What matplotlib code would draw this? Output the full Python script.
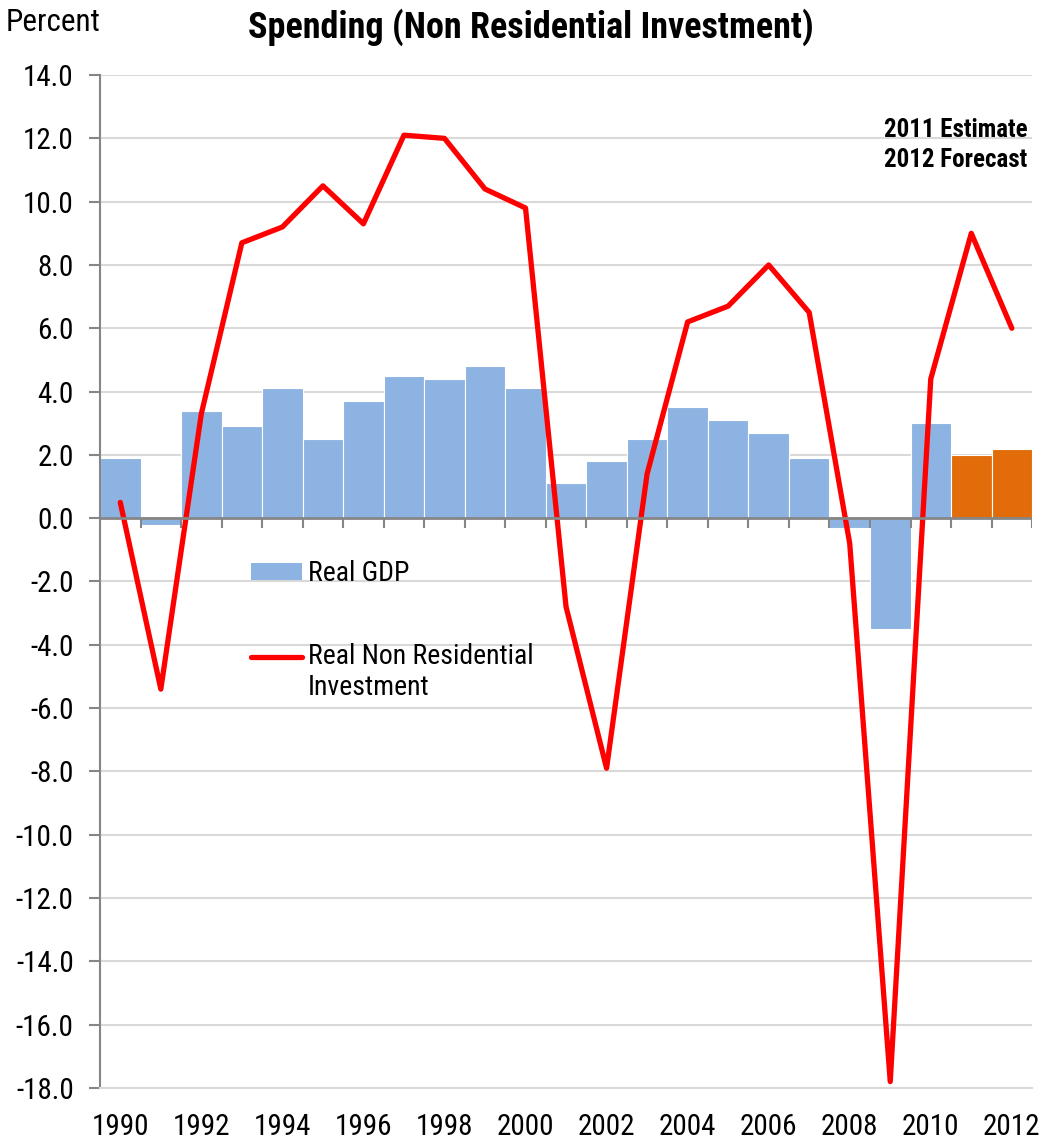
import matplotlib.pyplot as plt
from matplotlib.patches import Patch
from matplotlib.lines import Line2D
from matplotlib.legend_handler import HandlerLine2D
import numpy as np

years = list(range(1990, 2013))
real_gdp = [1.9, -0.2, 3.4, 2.9, 4.1, 2.5, 3.7, 4.5, 4.4, 4.8, 4.1, 1.1,
            1.8, 2.5, 3.5, 3.1, 2.7, 1.9, -0.3, -3.5, 3.0, 2.0, 2.2]
nonres_inv = [0.5, -5.4, 3.3, 8.7, 9.2, 10.5, 9.3, 12.1, 12.0, 10.4, 9.8, -2.8,
              -7.9, 1.4, 6.2, 6.7, 8.0, 6.5, -0.8, -17.8, 4.4, 9.0, 6.0]
forecast_years = [2011, 2012]
year_labels = [str(y) for y in years[::2]]

plt.rcParams['font.family'] = ['Roboto Condensed', 'PT Sans Narrow',
                               'Archivo Narrow', 'Liberation Sans']

blue = '#8DB3E2'
orange = '#E26B0A'
grey = '#868686'


class TopLineHandler(HandlerLine2D):
    # put the legend line next to the first row of a two-line label
    def create_artists(self, legend, orig_handle, xdescent, ydescent,
                       width, height, fontsize, trans):
        return super().create_artists(legend, orig_handle, xdescent,
                                      ydescent - 1.2 * fontsize, width, height,
                                      fontsize, trans)


fig = plt.figure(figsize=(10.54, 11.44), dpi=100)
ax = fig.add_axes([0.0949, 0.049, 0.8843, 0.8854])

x = np.arange(len(years))
colors = [orange if y in forecast_years else blue for y in years]
ax.bar(x, real_gdp, width=1.0, color=colors, edgecolor='white', linewidth=0.8, zorder=2)
ax.plot(x, nonres_inv, color='#FF0000', lw=3.8, solid_capstyle='round', zorder=3)

ax.set_xlim(-0.5, len(years) - 0.5)
ax.set_ylim(-18, 14)
ax.set_yticks(np.arange(-18, 15, 2))
ax.set_yticklabels([f'{v:.1f}' for v in np.arange(-18, 15, 2)])
ax.yaxis.grid(True, color='#D9D9D9', lw=1.5, zorder=0)
ax.set_axisbelow(True)

# year labels sit under the plot, ticks sit on the zero line
ax.set_xticks(x[::2])
ax.set_xticklabels(year_labels)
ax.tick_params(axis='x', length=0, pad=18, labelsize=21)
ax.tick_params(axis='y', length=8, width=1.5, color=grey, labelsize=21, pad=11)

for s in ['top', 'right']:
    ax.spines[s].set_visible(False)
ax.spines['bottom'].set_color('#D9D9D9')
ax.spines['bottom'].set_linewidth(1.5)
ax.spines['left'].set_color(grey)
ax.spines['left'].set_linewidth(1.5)

ax.axhline(0, color=grey, lw=2, zorder=4)
ax.vlines(np.arange(len(years) + 1) - 0.5, -0.3, 0, color=grey, lw=1.5, zorder=4)

gdp_handle = Patch(facecolor=blue, edgecolor='none')
inv_handle = Line2D([0], [0], color='#FF0000', lw=3.8, solid_capstyle='round')
ax.legend([gdp_handle, inv_handle], ['Real GDP', 'Real Non Residential\nInvestment'],
          handler_map={inv_handle: TopLineHandler()},
          loc='upper left', bbox_to_anchor=(0.162, 0.521), frameon=False,
          borderpad=0, borderaxespad=0, fontsize=20, handlelength=1.85,
          handleheight=0.55, handletextpad=0.2, labelspacing=2.0)

fig.text(0.005, 0.993, 'Percent', fontsize=22.5, va='top', ha='left')
fig.text(0.504, 0.993, 'Spending (Non Residential Investment)', fontsize=26,
         fontweight='bold', va='top', ha='center')
fig.text(0.839, 0.897, '2011 Estimate\n2012 Forecast', fontsize=18,
         fontweight='bold', va='top', ha='left', linespacing=1.3)

fig.savefig('out.png', dpi=100)
